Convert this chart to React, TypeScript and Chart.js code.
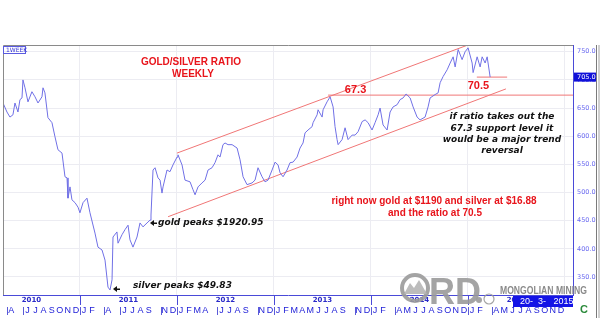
import React, { useEffect, useRef } from "react";
import { Chart, registerables } from "chart.js";
Chart.register(...registerables);

// x = months since Jan 2010, y = gold/silver ratio (weekly close)
const months = [
  2.48, 2.97, 3.34, 3.71, 3.96, 4.33, 4.58, 4.83, 4.95, 5.2, 5.57, 6.06, 6.44, 6.81, 7.3, 7.43, 7.67, 8.04, 8.54, 8.91,
  9.28, 9.78, 10.15, 10.4, 10.52, 10.77, 11.01, 11.39, 11.76, 12.0, 12.38, 12.87, 13.24, 13.86, 14.23, 14.73, 15.1, 15.47, 15.72, 15.97,
  16.09, 16.58, 16.71, 17.2, 17.57, 17.95, 18.19, 18.56, 19.06, 19.43, 19.8, 20.3, 20.67, 20.79, 21.04, 21.29, 21.66, 21.91, 22.15, 22.28,
  22.77, 23.14, 23.51, 24.01, 24.13, 24.63, 25.0, 25.62, 25.99, 26.24, 26.61, 27.1, 27.48, 27.85, 28.34, 28.71, 29.08, 29.33, 29.7, 29.95,
  30.32, 30.82, 31.44, 31.81, 32.18, 32.67, 33.29, 33.66, 34.03, 34.53, 34.9, 35.27, 35.77, 36.14, 36.51, 36.76, 37.13, 37.62, 37.99, 38.37,
  38.86, 39.23, 39.6, 39.85, 40.22, 40.72, 40.84, 41.34, 41.46, 41.96, 42.08, 42.57, 42.95, 43.32, 43.56, 43.81, 43.94, 44.43, 44.8, 45.17,
  45.67, 46.04, 46.41, 46.91, 47.28, 47.65, 48.14, 48.51, 48.89, 49.13, 49.5, 50.0, 50.37, 50.74, 51.24, 51.61, 51.98, 52.35, 52.85, 53.22,
  53.71, 54.08, 54.7, 55.07, 55.32, 55.94, 56.31, 56.56, 56.93, 57.43, 57.8, 58.17, 58.42, 58.79, 59.28, 59.65, 60.02, 60.52, 60.64, 61.14,
  61.51, 61.76, 62.13, 62.38, 62.75,
];
const ratio = [
  65.9, 64.3, 63.4, 63.8, 65.9, 64.3, 66.5, 66.8, 70.0, 68.6, 66.1, 67.9, 67.0, 65.9, 67.0, 68.6, 67.7, 63.3, 62.4, 59.9,
  57.6, 57.0, 52.8, 52.6, 49.0, 51.0, 48.7, 48.2, 47.4, 46.4, 48.2, 49.0, 46.4, 42.8, 40.3, 39.8, 38.0, 33.2, 32.7, 34.5,
  42.1, 43.0, 41.0, 42.5, 43.4, 44.2, 41.6, 40.3, 42.1, 44.6, 43.9, 44.6, 45.1, 46.0, 54.0, 54.4, 52.6, 52.2, 49.9, 51.0,
  54.0, 53.7, 54.9, 56.3, 56.7, 54.9, 52.2, 51.9, 50.5, 49.6, 51.0, 51.7, 52.2, 54.0, 54.4, 55.3, 56.7, 56.3, 58.5, 58.8,
  58.5, 58.5, 57.9, 55.8, 52.8, 51.4, 51.7, 52.2, 54.4, 52.8, 51.9, 52.2, 54.0, 55.4, 54.9, 53.5, 52.8, 54.0, 55.3, 55.4,
  56.3, 57.9, 58.8, 60.6, 61.1, 61.7, 62.4, 63.8, 64.7, 63.4, 64.7, 66.1, 67.0, 65.2, 61.7, 59.4, 58.5, 59.4, 61.5, 59.4,
  60.2, 60.2, 60.8, 62.6, 62.9, 62.4, 61.1, 62.4, 63.8, 65.0, 62.0, 61.1, 64.3, 65.2, 65.6, 66.5, 66.8, 67.5, 66.8, 65.2,
  63.4, 62.9, 63.4, 65.2, 66.8, 67.4, 67.7, 69.5, 70.6, 71.8, 73.0, 74.1, 72.3, 75.4, 73.6, 75.0, 75.7, 73.0, 71.3, 74.1,
  72.3, 74.1, 73.0, 74.1, 70.5,
];

// trend annotations: [months, ratio]
const upperChannel = [[24.0, 57.0], [60.0, 76.2]];
const lowerChannel = [[22.9, 45.7], [64.7, 68.4]];
const supportLevel = [[42.7, 67.3], [73.0, 67.3]];
const currentLevel = [[61.1, 70.5], [64.85, 70.5]];

const yTicks = [35, 40, 45, 50, 55, 60, 65, 70, 75];
const yearTicks = [12, 24, 36, 48, 60, 72];
const yearLabels = ["2010", "2011", "2012", "2013", "2014", "2015"];
const months2010 = ["", "", "", "A", "", "J", "J", "A", "S", "O", "N", "D"];
const months2011 = ["J", "F", "", "A", "", "J", "J", "A", "S", "", "N", "D"];
const months2012 = ["J", "F", "M", "A", "", "J", "J", "A", "S", "", "N", "D"];
const months2013 = ["J", "F", "M", "A", "M", "J", "J", "A", "S", "", "N", "D"];
const months2014 = ["J", "F", "", "A", "M", "J", "J", "A", "S", "O", "N", "D"];
const months2015 = ["J", "F", "", "A", "M", "J", "J", "A", "S", "O", "N", "D"];
const lastValue = 70.5;

const X_MIN = 2.48;
const X_MAX = 73.0;

const pairs = (arr: number[][]) => arr.map(([x, y]) => ({ x, y }));

export default function App() {
  const ref = useRef<HTMLCanvasElement | null>(null);
  useEffect(() => {
    document.body.style.margin = "0";
    const canvas = ref.current!;
    const annot = {
      id: "annot",
      afterDatasetsDraw(chart: any) {
        const { ctx, chartArea: a, scales } = chart;
        const xs = scales.x, ys = scales.y;
        ctx.save();
        // frame
        ctx.strokeStyle = "#8a8a8a";
        ctx.lineWidth = 1;
        ctx.beginPath();
        ctx.moveTo(a.left + 0.5, a.bottom);
        ctx.lineTo(a.left + 0.5, a.top + 0.5);
        ctx.lineTo(a.right, a.top + 0.5);
        ctx.stroke();
        // 1WEEK tag
        ctx.strokeStyle = "#5a5ae0";
        ctx.strokeRect(a.left + 0.5, a.top + 1.5, 22, 7);
        ctx.fillStyle = "#3a3ad8";
        ctx.font = "6px 'DejaVu Sans'";
        ctx.textAlign = "left";
        ctx.textBaseline = "middle";
        ctx.fillText("1WEEK", a.left + 3, a.top + 5.5);
        // red texts
        ctx.fillStyle = "#e8141b";
        ctx.textAlign = "center";
        ctx.font = "bold 10px 'Liberation Sans'";
        ctx.fillText("GOLD/SILVER RATIO", 191, 62);
        ctx.fillText("WEEKLY", 193, 74);
        ctx.font = "bold 11px 'Liberation Sans'";
        ctx.fillText("67.3", xs.getPixelForValue(46.1), ys.getPixelForValue(68.2));
        ctx.fillText("70.5", xs.getPixelForValue(61.3), ys.getPixelForValue(69.0));
        ctx.font = "bold 10px 'Liberation Sans'";
        ctx.fillText("right now gold at $1190 and silver at $16.88", 434, 201);
        ctx.fillText("and the ratio at 70.5", 435, 213);
        // black italic notes
        ctx.fillStyle = "#111";
        ctx.font = "italic bold 9px 'DejaVu Sans'";
        ctx.fillText("if ratio takes out the", 502, 117);
        ctx.fillText("67.3 support level it", 502, 129);
        ctx.fillText("would be a major trend", 502, 140);
        ctx.fillText("reversal", 502, 151);
        ctx.textAlign = "left";
        ctx.fillText("gold peaks $1920.95", 158, 223);
        ctx.fillText("silver peaks $49.83", 133, 286);
        // arrows
        const arrow = (x: number, y: number) => {
          ctx.beginPath();
          ctx.moveTo(x, y);
          ctx.lineTo(x + 4, y - 3);
          ctx.lineTo(x + 4, y + 3);
          ctx.closePath();
          ctx.fill();
          ctx.fillRect(x + 3, y - 0.5, 4, 1.5);
        };
        arrow(150, 223);
        arrow(113, 289);
        ctx.restore();
      },
      afterDraw(chart: any) {
        const { ctx, chartArea: a, scales } = chart;
        const xs = scales.x, ys = scales.y;
        ctx.save();
        // x axis rows
        const rowTop = a.bottom;
        ctx.strokeStyle = "#4a4ad8";
        ctx.lineWidth = 1;
        yearTicks.forEach((t) => {
          const px = Math.round(xs.getPixelForValue(t)) + 0.5;
          ctx.beginPath();
          ctx.moveTo(px, rowTop);
          ctx.lineTo(px, rowTop + 10);
          ctx.stroke();
        });
        ctx.fillStyle = "#2a2ac8";
        ctx.font = "bold 7px 'DejaVu Sans'";
        ctx.textAlign = "center";
        ctx.textBaseline = "middle";
        yearLabels.forEach((lab, i) => {
          const px = xs.getPixelForValue(i * 12 + 6);
          ctx.fillText(lab, px, rowTop + 5);
        });
        const allMonths = [months2010, months2011, months2012, months2013, months2014, months2015];
        ctx.font = "9px 'Liberation Sans'";
        ctx.fillStyle = "#2020d8";
        allMonths.forEach((row, yi) => {
          row.forEach((m, mi) => {
            const t = yi * 12 + mi;
            if (t < X_MIN - 0.6 || t > X_MAX) return;
            const px = xs.getPixelForValue(t + 0.5);
            if (m) ctx.fillText(m, px, rowTop + 16);
            const bx = Math.round(xs.getPixelForValue(t)) + 0.5;
            const prev = mi > 0 ? row[mi - 1] : "x";
            if (bx > a.left && (mi === 0 || (m && !prev))) {
              ctx.strokeStyle = "#5a5ad8";
              ctx.beginPath();
              ctx.moveTo(bx, rowTop + 12);
              ctx.lineTo(bx, rowTop + 20);
              ctx.stroke();
            }
          });
        });
        // right panel
        ctx.strokeStyle = "#7a7a7a";
        ctx.beginPath();
        ctx.moveTo(596.5, a.top);
        ctx.lineTo(596.5, 318);
        ctx.stroke();
        ctx.fillStyle = "#d0d0d0";
        ctx.fillRect(598, a.top, 2, 273);
        // current value tag
        const vy = ys.getPixelForValue(lastValue);
        ctx.fillStyle = "#1010d8";
        ctx.fillRect(a.right + 1, vy - 4.5, 22, 9);
        ctx.fillStyle = "#fff";
        ctx.font = "6.5px 'DejaVu Sans'";
        ctx.textAlign = "left";
        ctx.fillText((lastValue * 10).toFixed(1), a.right + 4, vy);
        // watermark logo
        ctx.globalAlpha = 0.9;
        ctx.strokeStyle = "#9a9a9a";
        ctx.lineWidth = 4;
        ctx.beginPath();
        ctx.arc(415, 288, 13, 0, Math.PI * 2);
        ctx.stroke();
        ctx.fillStyle = "#b5b5b5";
        ctx.beginPath();
        ctx.moveTo(404, 294);
        ctx.lineTo(410, 283);
        ctx.lineTo(414, 288);
        ctx.lineTo(419, 280);
        ctx.lineTo(427, 294);
        ctx.closePath();
        ctx.fill();
        ctx.fillStyle = "#9a9a9a";
        ctx.font = "bold 36px 'Liberation Sans'";
        ctx.textBaseline = "alphabetic";
        ctx.fillText("RD", 429, 304);
        ctx.beginPath();
        ctx.arc(479, 300, 3, 0, Math.PI * 2);
        ctx.fill();
        ctx.lineWidth = 1.2;
        ctx.beginPath();
        ctx.arc(489, 299, 5, 0, Math.PI * 2);
        ctx.stroke();
        ctx.globalAlpha = 1;
        ctx.fillStyle = "#8a8a8a";
        ctx.font = "bold 10px 'Liberation Sans'";
        ctx.textBaseline = "middle";
        const mm = "MONGOLIAN MINING";
        const w = ctx.measureText(mm).width;
        ctx.save();
        ctx.translate(500, 291);
        ctx.scale(87 / w, 1);
        ctx.fillText(mm, 0, 0);
        ctx.restore();
        // date box
        ctx.fillStyle = "#1414e6";
        ctx.fillRect(513, 296, 60, 11);
        ctx.fillStyle = "#fff";
        ctx.font = "9px 'Liberation Sans'";
        ctx.fillText("20-  3-   2015", 520, 302);
        // corner logo
        ctx.fillStyle = "#2a8a3a";
        ctx.font = "bold 11px 'Liberation Sans'";
        ctx.textAlign = "center";
        ctx.fillText("C", 584, 310);
        ctx.restore();
      },
    };

    const chart = new Chart(canvas, {
      type: "line",
      data: {
        datasets: [
          {
            data: months.map((m, i) => ({ x: m, y: ratio[i] })),
            borderColor: "#7070e6",
            borderWidth: 1,
            pointRadius: 0,
            tension: 0,
          },
          { data: pairs(upperChannel), borderColor: "#f07676", borderWidth: 1, pointRadius: 0 },
          { data: pairs(lowerChannel), borderColor: "#f07676", borderWidth: 1, pointRadius: 0 },
          { data: pairs(supportLevel), borderColor: "#f07676", borderWidth: 1, pointRadius: 0 },
          { data: pairs(currentLevel), borderColor: "#f07676", borderWidth: 1, pointRadius: 0 },
        ],
      },
      options: {
        animation: false,
        responsive: false,
        maintainAspectRatio: false,
        layout: { padding: { left: 3, top: 45, right: 0, bottom: 0 } },
        plugins: { legend: { display: false }, tooltip: { enabled: false } },
        scales: {
          x: {
            type: "linear",
            min: X_MIN,
            max: X_MAX,
            afterBuildTicks: (s: any) => {
              s.ticks = yearTicks.map((v) => ({ value: v }));
            },
            afterFit: (s: any) => {
              s.height = 27;
            },
            ticks: { display: false },
            grid: { color: "#ececf2", drawTicks: false },
            border: { color: "#4a4ad8", width: 1 },
          },
          y: {
            type: "linear",
            position: "right",
            min: 31.8,
            max: 76.2,
            afterBuildTicks: (s: any) => {
              s.ticks = yTicks.map((v) => ({ value: v }));
            },
            afterFit: (s: any) => {
              s.width = 27;
            },
            ticks: {
              color: "#6a6af0",
              font: { size: 6.5, family: "'DejaVu Sans'" },
              padding: 4,
              callback: (v: any) => (Number(v) * 10).toFixed(1),
            },
            grid: { color: "#ececf2", drawTicks: false },
            border: { color: "#4a4ad8", width: 1 },
          },
        },
      },
      plugins: [annot],
    });
    return () => chart.destroy();
  }, []);
  return (
    <div style={{ width: 600, height: 322, background: "#fff" }}>
      <canvas ref={ref} width={600} height={322} style={{ display: "block" }} />
    </div>
  );
}
